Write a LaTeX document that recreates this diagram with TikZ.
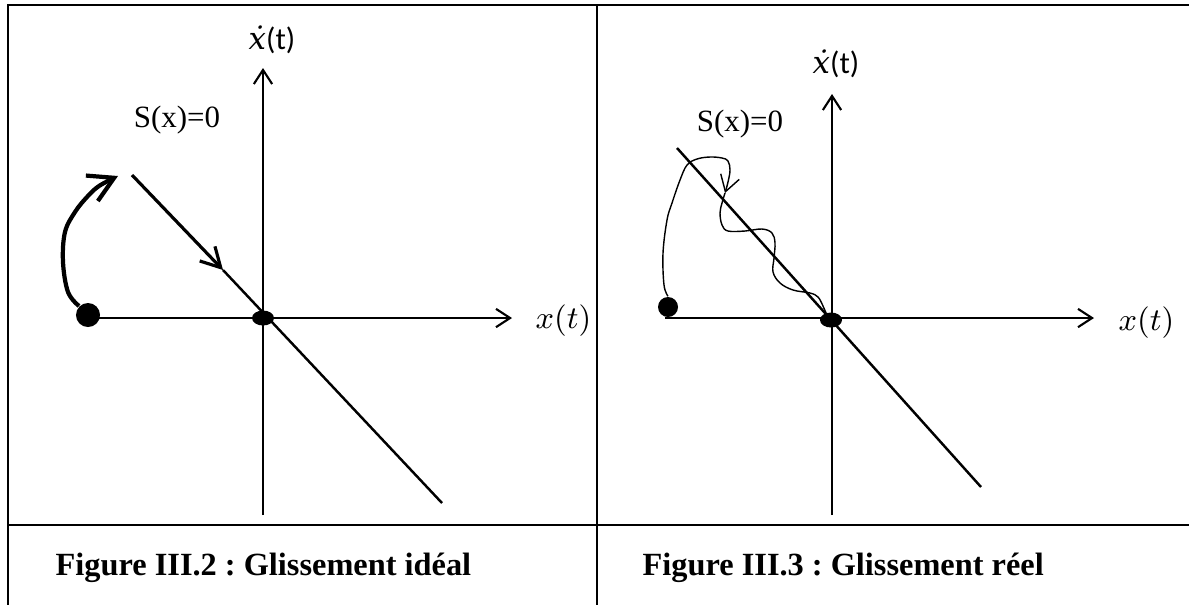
\documentclass[tikz,border=0pt]{standalone}
\usepackage{fontspec}
\setmainfont{Liberation Serif}
\newfontfamily\calibrifont{Carlito}
\newfontfamily\dejaserif{DejaVu Serif}
\frenchspacing
\usetikzlibrary{arrows.meta,shapes.geometric}

\begin{document}
\begin{tikzpicture}[
    x=0.01cm, y=-0.01cm,
    >={Straight Barb[length=4pt,width=5.2pt]},
    rule/.style={line width=0.7pt},
    axis/.style={->, line width=0.6pt},
    slide/.style={line width=0.7pt},
    traj/.style={line width=0.4pt},
    startdot/.style={circle, fill, inner sep=0pt, minimum size=0.24cm},
    origdot/.style={ellipse, fill, inner sep=0pt, minimum width=0.22cm, minimum height=0.15cm},
    lbl/.style={font=\fontsize{8.8}{10}\selectfont, inner sep=0pt},
    caption/.style={font=\fontsize{9.2}{11}\selectfont\bfseries, anchor=base west, inner sep=0pt},
  ]
  \useasboundingbox (0,0) rectangle (1189,605);

  % --- Table frame ---
  \draw[rule] (1189,5) -- (8,5) -- (8,605);
  \draw[rule] (597,5) -- (597,605);
  \draw[rule] (8,525) -- (1189,525);

  % --- Left panel: ideal sliding ---
  \coordinate (xLa) at (88,318);
  \coordinate (xLb) at (512,318);
  \coordinate (yLa) at (263,515);
  \coordinate (yLb) at (263,68);
  \draw[axis] (xLa) -- (xLb);
  \draw[axis] (yLa) -- (yLb);
  \node[lbl, anchor=west] (xlabL) at (535,321) {$x(t)$};
  \node[lbl] (ylabL) at (272,40) {{\dejaserif\itshape ẋ}{\calibrifont(t)}};
  \node[lbl] (surfL) at (177,120) {S(x)=0};

  \coordinate (sLa) at (132,175);
  \coordinate (sLm) at (223,270);
  \coordinate (sLb) at (442,503);
  \draw[line width=0.9pt, -{Straight Barb[length=5.5pt,width=6pt]}] (sLa) -- (sLm);
  \draw[slide] (sLm) -- (sLb);

  \node[origdot] (oL) at (263,318) {};
  \node[startdot] (pL) at (88,315) {};
  \coordinate (tipL) at (118,176);
  \draw[line width=1.2pt, -{Straight Barb[length=7pt,width=8pt]}] plot[smooth, tension=0.6] coordinates {
    (pL.north west) (68,292) (63,262) (65,232) (75,212) (87,197) (99,186) (tipL)};

  % --- Right panel: real sliding (chattering) ---
  \coordinate (xRa) at (665,318);
  \coordinate (xRb) at (1094,318);
  \coordinate (yRa) at (832,515);
  \coordinate (yRb) at (832,94);
  \draw[axis] (xRa) -- (xRb);
  \draw[axis] (yRa) -- (yRb);
  \node[lbl, anchor=west] (xlabR) at (1118,323) {$x(t)$};
  \node[lbl] (ylabR) at (836,64) {{\dejaserif\itshape ẋ}{\calibrifont(t)}};
  \node[lbl] (surfR) at (740,124) {S(x)=0};

  \coordinate (sRa) at (677,148);
  \coordinate (sRb) at (981,487);
  \draw[slide] (sRa) -- (sRb);

  \node[origdot] (oR) at (831,320) {};
  \node[startdot, minimum size=0.2cm] (pR) at (668,307) {};
  \coordinate (tipR) at (725,193);
  \draw[traj, -{Straight Barb[length=4.5pt,width=5.5pt]}] plot[smooth, tension=0.6] coordinates {
    (pR.north) (664,285) (663,253) (667,220) (672,203) (680,180) (687,165) (697,159)
    (710,157) (722,158) (728,161) (730,170) (728,182) (tipR)};
  \draw[traj] plot[smooth, tension=0.6] coordinates {
    (tipR) (722,203) (720,213) (722,225) (728,231) (745,231) (762,229) (772,233)
    (775,243) (774,258) (773,272) (780,283) (793,290) (810,293) (818,297)
    (823,306) (827,315) (oR.center)};

  % --- Captions ---
  \node[caption] (capL) at (55,575) {Figure III.2 : Glissement idéal};
  \node[caption] (capR) at (642,575) {Figure III.3 : Glissement réel};
\end{tikzpicture}
\end{document}
